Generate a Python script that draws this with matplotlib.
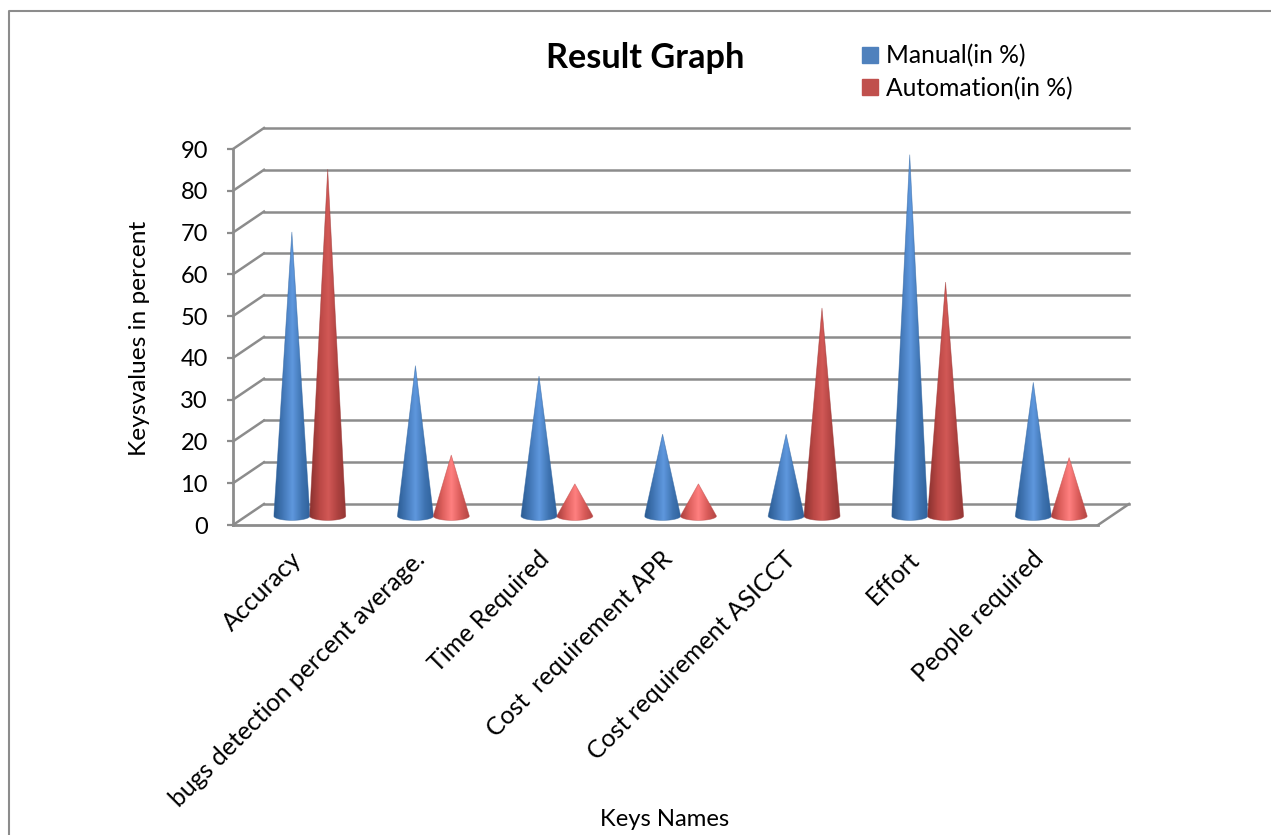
import matplotlib
matplotlib.use('Agg')
import matplotlib.pyplot as plt
import matplotlib.transforms as mtrans
from matplotlib.colors import LinearSegmentedColormap
from matplotlib.lines import Line2D
from matplotlib.patches import Patch, Polygon
import numpy as np

# data
categories = ['Accuracy', 'bugs detection percent average.', 'Time Required',
              'Cost  requirement APR', 'Cost requirement ASICCT', 'Effort', 'People required']
manual = [68, 36, 33.5, 19.6, 19.6, 86.5, 32]
automation = [83, 14.6, 7.7, 7.7, 49.8, 56, 14]
yticks = [0, 10, 20, 30, 40, 50, 60, 70, 80, 90]

plt.rcParams['font.family'] = ['Lato', 'DejaVu Sans']
GREY = '#8c8c8c'

blue_cmap = LinearSegmentedColormap.from_list('blue', ['#2b5c92', '#4378b8', '#5f98de', '#3f74b2', '#2d6099'])
red_cmap = LinearSegmentedColormap.from_list('red', ['#8a3230', '#b94744', '#d25856', '#ae4240', '#923634'])
pink_cmap = LinearSegmentedColormap.from_list('pink', ['#a83f3d', '#dd5f5c', '#ff8080', '#d95b59', '#b04543'])

fig = plt.figure(figsize=(12.71, 8.35), dpi=100)
ax = fig.add_axes([233 / 1271, (835 - 525) / 835, 865 / 1271, 376 / 835])
ax.set_xlim(0, 7)
ax.set_ylim(0, 90)

# back wall and cones sit behind the front plane, shifted in pixels
back = ax.transData + mtrans.Affine2D().translate(31, 21)
mid = ax.transData + mtrans.Affine2D().translate(15, 9)

for v in yticks:
    ax.plot([0, 7], [v, v], color=GREY, lw=1.8, transform=back, clip_on=False, zorder=1)
    x0, y0 = ax.transData.transform((0, v))
    ax.add_artist(Line2D([x0, x0 + 31], [y0, y0 + 21], color=GREY, lw=1.8, transform=None,
                         clip_on=False, zorder=1))
x1, y1 = ax.transData.transform((7, 0))
ax.add_artist(Line2D([x1, x1 + 31], [y1, y1 + 21], color=GREY, lw=1.8, transform=None,
                     clip_on=False, zorder=1))


def cone(x, v, cmap):
    w = 0.146
    t = np.linspace(0, np.pi, 40)
    ex = x + w * np.cos(t)
    ey = -1.05 * np.sin(t)
    pts = np.column_stack([np.r_[x, ex], np.r_[v, ey]])
    im = ax.imshow(np.linspace(0, 1, 64).reshape(1, -1), cmap=cmap, aspect='auto',
                   extent=[x - w, x + w, -1.1, v], transform=mid, zorder=3,
                   interpolation='bilinear')
    poly = Polygon(pts, closed=True, transform=mid)
    im.set_clip_path(poly)
    # soft edge so the clip does not look jagged
    ax.add_patch(Polygon(pts, closed=True, fill=False, edgecolor=cmap(0.1), lw=0.5,
                         alpha=0.6, transform=mid, zorder=4))


for i in range(len(categories)):
    cone(i + 0.5 - 0.145, manual[i], blue_cmap)
    cone(i + 0.5 + 0.145, automation[i], pink_cmap if automation[i] < 20 else red_cmap)

ax.set_xlim(0, 7)
ax.set_ylim(0, 90)
ax.patch.set_visible(False)
for s in ['top', 'right']:
    ax.spines[s].set_visible(False)
for s in ['left', 'bottom']:
    ax.spines[s].set_color(GREY)
    ax.spines[s].set_linewidth(2)
    ax.spines[s].set_zorder(2)

ax.set_yticks(yticks)
ax.tick_params(axis='y', length=4, width=1.6, color=GREY, labelsize=17, pad=14)
ax.set_xticks(np.arange(len(categories)) + 0.5)
ax.set_xticklabels(categories, rotation=45, ha='right', va='top', rotation_mode='anchor', fontsize=17.9)
ax.tick_params(axis='x', length=0, pad=16)
# labels end a little left of the category centre
for lab in ax.get_xticklabels():
    lab.set_transform(lab.get_transform() + mtrans.Affine2D().translate(-5, 0))

ax.set_title('Result Graph', fontsize=24.7, fontweight='bold', x=0.476, y=1.221, va='center')
ax.set_xlabel('Keys Names', fontsize=17.2)
ax.xaxis.set_label_coords(0.499, -0.755)
ax.set_ylabel('Keysvalues in percent', fontsize=17.6)
ax.yaxis.set_label_coords(-0.096, 0.497)

handles = [Patch(color='#4f81bd', label='Manual(in %)'), Patch(color='#c0504d', label='Automation(in %)')]
fig.legend(handles=handles, loc='upper left', bbox_to_anchor=(855 / 1271, 1 - 37 / 835), frameon=False,
           fontsize=17.7, handlelength=0.62, handleheight=0.62, handletextpad=0.35, labelspacing=0.37,
           borderpad=0.3, borderaxespad=0)

# page frame
fig.add_artist(Line2D([9 / 1271, 9 / 1271, 1], [0, 1 - 11 / 835, 1 - 11 / 835], color=GREY, lw=1.5))

fig.savefig('out.png', dpi=100)
